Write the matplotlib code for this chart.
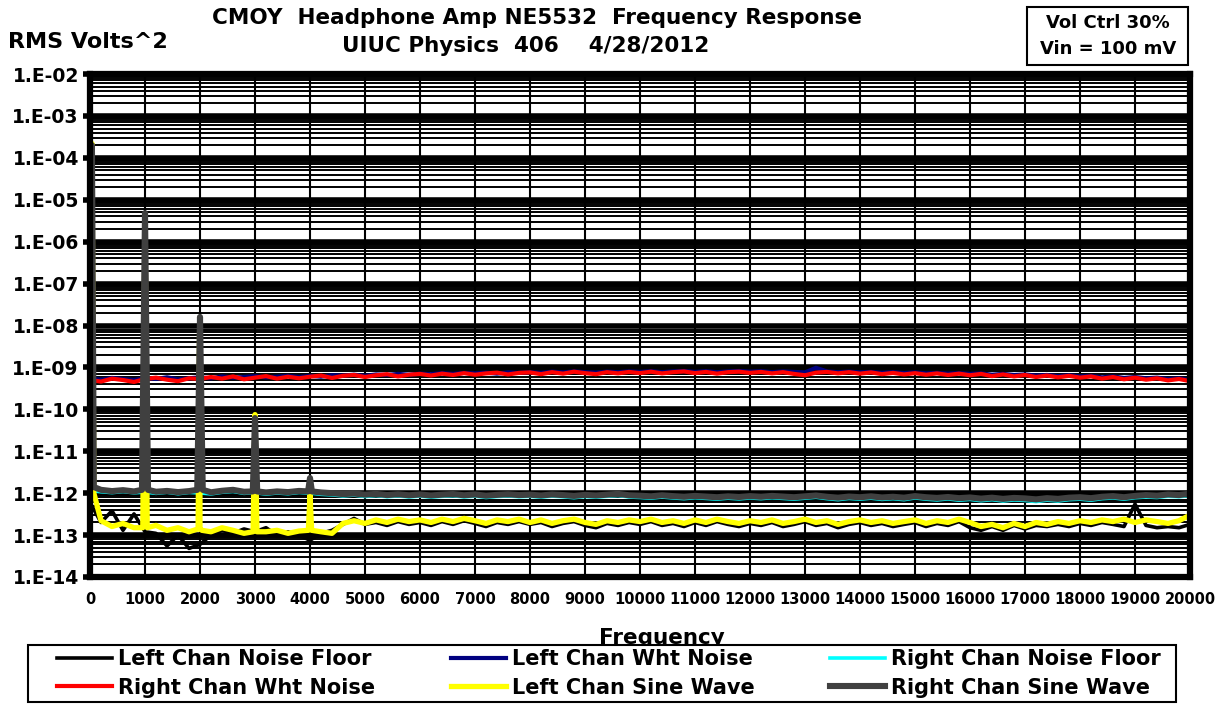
import matplotlib

matplotlib.use("Agg")
import matplotlib.pyplot as plt
import numpy as np
from matplotlib.patches import Rectangle
from matplotlib.ticker import FixedLocator, FuncFormatter, NullFormatter, NullLocator

plt.rcParams["font.family"] = ["DejaVu Sans"]
plt.rcParams["font.weight"] = "bold"

# sample frequencies (Hz) of the analyser trace, read every 200 Hz
freq = np.arange(0, 20001, 200)

# white noise traces, units of 1e-10 V^2
left_wht = np.array([
    5.4, 5.1, 5.6, 5.3, 5.0, 5.6, 5.3, 5.8, 5.2, 5.5,
    5.8, 5.5, 6.1, 5.7, 5.9, 6.2, 5.8, 6.0, 6.3, 5.9,
    6.3, 6.0, 6.5, 6.4, 6.7, 6.3, 6.8, 6.6, 7.0, 6.7,
    7.1, 6.9, 7.3, 7.0, 7.4, 7.2, 7.5, 7.1, 7.6, 7.4,
    7.7, 7.4, 7.9, 7.6, 8.0, 7.7, 7.5, 7.9, 7.7, 8.0,
    7.8, 8.1, 7.7, 8.0, 8.2, 7.8, 8.1, 7.7, 8.0, 8.2,
    7.9, 8.1, 7.7, 8.0, 7.8, 7.6, 9.8, 8.0, 7.7, 7.9,
    7.6, 7.8, 7.4, 7.7, 7.3, 7.6, 7.2, 7.4, 7.1, 7.3,
    7.0, 7.2, 6.7, 7.0, 6.6, 6.8, 6.4, 6.6, 6.2, 6.5,
    6.1, 6.3, 5.8, 6.1, 5.6, 5.9, 5.5, 5.7, 5.3, 5.5,
    5.0]) * 1e-10
right_wht = np.array([
    5.0, 4.6, 5.4, 5.0, 4.5, 5.3, 5.7, 5.1, 4.7, 5.5,
    5.3, 5.9, 5.4, 6.1, 5.2, 5.7, 6.2, 5.4, 6.0, 5.5,
    6.0, 6.4, 5.6, 6.3, 6.6, 5.9, 6.5, 6.9, 6.1, 6.7,
    7.0, 6.4, 7.1, 6.6, 7.3, 6.7, 7.2, 7.5, 6.8, 7.4,
    7.6, 6.9, 7.7, 7.1, 7.9, 7.3, 6.9, 7.7, 7.2, 7.8,
    7.3, 7.9, 7.2, 7.7, 8.0, 7.3, 7.8, 7.1, 7.7, 7.9,
    7.4, 7.8, 7.2, 7.7, 7.0, 6.5, 7.5, 7.8, 7.2, 7.7,
    7.1, 7.6, 6.9, 7.4, 6.8, 7.3, 6.7, 7.2, 6.6, 7.1,
    6.5, 7.0, 6.2, 6.8, 6.1, 6.6, 5.9, 6.4, 5.8, 6.3,
    5.7, 6.1, 5.4, 5.9, 5.2, 5.7, 5.1, 5.5, 4.9, 5.3,
    4.7]) * 1e-10

# noise floors, units of 1e-13 V^2
left_floor = np.array([
    6.0, 2.0, 3.8, 1.3, 3.2, 1.2, 1.1, 0.55, 1.0, 0.48,
    0.6, 1.0, 1.3, 1.1, 1.4, 1.2, 1.5, 1.0, 1.2, 1.0,
    0.75, 1.1, 1.3, 1.8, 2.5, 1.8, 2.0, 1.7, 2.1, 1.8,
    2.0, 1.7, 2.1, 1.8, 2.2, 1.9, 1.6, 2.0, 1.8, 2.1,
    1.8, 2.0, 1.6, 1.9, 2.1, 1.7, 1.5, 1.9, 1.7, 2.0,
    1.8, 2.1, 1.7, 1.9, 1.6, 2.0, 1.7, 2.1, 1.8, 1.6,
    1.9, 1.7, 2.0, 1.6, 1.8, 2.1, 1.7, 1.9, 1.5, 1.8,
    2.0, 1.7, 1.9, 1.6, 1.8, 2.0, 1.6, 1.9, 1.7, 2.1,
    1.5, 1.3, 1.6, 1.3, 1.7, 1.4, 1.7, 1.6, 1.8, 1.6,
    1.9, 1.7, 2.0, 1.8, 1.6, 5.5, 1.7, 1.5, 1.6, 1.5,
    1.8]) * 1e-13
right_floor = np.array([
    11.5, 10.8, 10.3, 10.9, 10.2, 10.6, 9.9, 10.5, 9.7, 10.4,
    10.1, 9.6, 10.5, 11.0, 9.9, 10.3, 9.5, 10.1, 9.7, 10.4,
    10.0, 9.4, 9.1, 8.6, 9.0, 8.3, 8.8, 8.2, 8.6, 8.1,
    8.5, 8.0, 8.4, 8.7, 8.1, 8.5, 7.9, 8.3, 8.6, 8.2,
    8.4, 8.0, 8.5, 8.2, 7.8, 8.3, 8.0, 8.4, 8.8, 8.1,
    7.9, 7.6, 8.1, 7.7, 7.4, 7.8, 7.5, 7.2, 7.6, 7.3,
    7.7, 7.4, 7.8, 7.5, 7.2, 7.6, 8.0, 7.4, 7.0, 7.5,
    7.2, 7.6, 7.1, 7.4, 7.0, 7.7, 7.2, 6.9, 7.3, 6.8,
    7.1, 6.6, 7.0, 6.5, 6.9, 6.7, 6.3, 6.8, 6.5, 7.0,
    7.2, 6.8, 7.4, 7.7, 7.2, 7.8, 8.1, 7.9, 8.4, 8.2,
    8.8]) * 1e-13

# sine wave traces: floor between harmonics, units of 1e-13 V^2
left_sine_floor = np.array([
    10.0, 2.2, 1.6, 1.9, 1.5, 1.4, 1.7, 1.3, 1.5, 1.2,
    1.4, 1.2, 1.5, 1.3, 1.1, 1.4, 1.2, 1.3, 1.1, 1.25,
    1.3, 1.2, 1.1, 1.9, 2.2, 1.9, 2.3, 2.0, 2.4, 2.1,
    2.3, 2.0, 2.4, 2.1, 2.5, 2.2, 1.9, 2.3, 2.1, 2.4,
    2.0, 2.3, 1.9, 2.2, 2.4, 2.0, 1.8, 2.2, 2.0, 2.3,
    2.1, 2.4, 2.0, 2.2, 1.9, 2.3, 2.0, 2.4, 2.1, 1.9,
    2.2, 2.0, 2.3, 1.9, 2.1, 2.4, 2.0, 2.2, 1.8, 2.1,
    2.3, 2.0, 2.2, 1.9, 2.1, 2.3, 1.9, 2.2, 2.0, 2.4,
    2.0, 1.6, 1.8, 1.5, 1.9, 1.6, 2.0, 1.8, 2.1, 1.9,
    2.2, 2.0, 2.3, 2.1, 2.4, 2.0, 2.3, 2.1, 1.9, 2.2,
    3.0]) * 1e-13
right_sine_floor = np.array([
    15.0, 12.0, 11.2, 11.8, 11.0, 11.5, 10.8, 11.3, 10.6, 11.2,
    11.0, 10.5, 11.4, 12.0, 10.8, 11.2, 10.4, 11.0, 10.6, 11.3,
    11.0, 10.4, 10.0, 9.5, 9.8, 9.2, 9.6, 9.0, 9.4, 8.9,
    9.3, 8.8, 9.2, 9.5, 8.9, 9.3, 8.7, 9.1, 9.4, 9.0,
    9.2, 8.8, 9.3, 9.0, 8.6, 9.1, 8.8, 9.2, 9.6, 8.9,
    8.7, 8.4, 8.9, 8.5, 8.2, 8.6, 8.3, 8.0, 8.4, 8.1,
    8.5, 8.2, 8.6, 8.3, 8.0, 8.4, 8.8, 8.2, 7.8, 8.3,
    8.0, 8.4, 7.9, 8.2, 7.8, 8.5, 8.0, 7.7, 8.1, 7.6,
    7.9, 7.4, 7.8, 7.3, 7.7, 7.5, 7.1, 7.6, 7.3, 7.8,
    8.0, 7.6, 8.2, 8.5, 8.0, 8.6, 9.0, 8.7, 9.3, 9.0,
    9.7]) * 1e-13

# harmonic peaks of the 1 kHz sine (Hz, V^2)
left_peak_freq = [35, 70, 960, 1000, 1040, 1965, 1995, 2035, 2965, 3000, 3035, 3970, 4000, 4030]
left_peak_val = [2.2e-4, 1.0e-12, 1.5e-13, 4.5e-6, 1.5e-13, 1.4e-13, 1.5e-8, 1.3e-13,
                 1.2e-13, 7.5e-11, 1.2e-13, 1.3e-13, 9.0e-13, 1.3e-13]
right_peak_freq = [35, 70, 945, 1000, 1055, 1950, 2000, 2050, 2960, 3000, 3040, 3965, 4000, 4035]
right_peak_val = [2.0e-4, 1.4e-12, 1.2e-12, 4.8e-6, 1.2e-12, 1.2e-12, 1.6e-8, 1.2e-12,
                  1.1e-12, 6.2e-11, 1.1e-12, 1.1e-12, 2.3e-12, 1.1e-12]

decades = [1e-14, 1e-13, 1e-12, 1e-11, 1e-10, 1e-9, 1e-8, 1e-7, 1e-6, 1e-5, 1e-4, 1e-3, 1e-2]
xticks = list(range(0, 20001, 1000))


def with_peaks(floor, peak_freq, peak_val):
    keep = ~np.isin(freq, peak_freq)
    x = np.concatenate([freq[keep], peak_freq])
    y = np.concatenate([floor[keep], peak_val])
    order = np.argsort(x)
    return x[order], y[order]


W, H = 1227, 704
fig = plt.figure(figsize=(W / 100, H / 100), dpi=100)
ax = fig.add_axes([90 / W, 1 - 577 / H, 1100 / W, 503 / H])
ax.set_yscale("log")
ax.set_xlim(0, 20000)
ax.set_ylim(1e-14, 1e-2)

# chart-style grid: heavy decades, thin 2..9, thin verticals every 1 kHz
minors = [m * d for d in decades[:-1] for m in range(2, 10)]
for d in decades[1:-1]:
    ax.axhline(d, color="black", lw=4.0, zorder=1)
for m in minors:
    ax.axhline(m, color="black", lw=1.4, zorder=1)
for xv in xticks[1:-1]:
    ax.axvline(xv, color="black", lw=1.5, zorder=1)

xs, ls = with_peaks(left_sine_floor, left_peak_freq, left_peak_val)
xr, rs = with_peaks(right_sine_floor, right_peak_freq, right_peak_val)

h_lnf, = ax.plot(freq, left_floor, color="black", lw=2.6, zorder=3)
h_lwn, = ax.plot(freq, left_wht, color="#000080", lw=3.0, zorder=3)
h_rnf, = ax.plot(freq, right_floor, color="#00ffff", lw=2.6, zorder=3)
h_rwn, = ax.plot(freq, right_wht, color="#ff0000", lw=3.0, zorder=3)
h_lsw, = ax.plot(xs, ls, color="#ffff00", lw=3.8, zorder=3)
h_rsw, = ax.plot(xr, rs, color="#404040", lw=4.4, zorder=3)

for s in ax.spines.values():
    s.set_linewidth(4.5)
    s.set_zorder(4)

ax.yaxis.set_major_locator(FixedLocator(decades))
ax.yaxis.set_minor_locator(NullLocator())
ax.yaxis.set_major_formatter(FuncFormatter(lambda v, p: "1.E-%02d" % round(-np.log10(v))))
ax.yaxis.set_minor_formatter(NullFormatter())
ax.tick_params(axis="y", which="major", length=5, width=4, pad=3, labelsize=13.5)
ax.xaxis.set_major_locator(FixedLocator(xticks))
ax.tick_params(axis="x", length=0, pad=11, labelsize=10.5)

fig.text(537 / W, 1 - 18 / H, "CMOY  Headphone Amp NE5532  Frequency Response",
         ha="center", va="center", fontsize=15.5, weight="bold")
fig.text(526 / W, 1 - 46 / H, "UIUC Physics  406    4/28/2012",
         ha="center", va="center", fontsize=15.5, weight="bold")
fig.text(8 / W, 1 - 42 / H, "RMS Volts^2", ha="left", va="center", fontsize=16, weight="bold")
fig.text(662 / W, 1 - 644 / H, "Frequency", ha="center", va="baseline", fontsize=15.5, weight="bold")

fig.patches.append(Rectangle((1027 / W, 1 - 65 / H), 161 / W, 58 / H, transform=fig.transFigure,
                             fill=False, ec="black", lw=1.5))
fig.text(1108 / W, 1 - 23 / H, "Vol Ctrl 30%", ha="center", va="center", fontsize=13, weight="bold")
fig.text(1108 / W, 1 - 49 / H, "Vin = 100 mV", ha="center", va="center", fontsize=13, weight="bold")

# legend box drawn separately so it covers the bottom of the axis title
fig.patches.append(Rectangle((28 / W, 2 / H), 1148 / W, 57 / H, transform=fig.transFigure,
                             fc="white", ec="black", lw=1.5, zorder=4))
handles = [h_lnf, h_rwn, h_lwn, h_lsw, h_rnf, h_rsw]
labels = ["Left Chan Noise Floor", "Right Chan Wht Noise", "Left Chan Wht Noise",
          "Left Chan Sine Wave", "Right Chan Noise Floor", "Right Chan Sine Wave"]
fig.legend(handles, labels, ncol=3, loc="upper left", bbox_to_anchor=(57 / W, 1 - 649 / H),
           borderaxespad=0, borderpad=0, prop={"weight": "bold", "size": 15}, handlelength=2.65,
           handletextpad=0.3, labelspacing=0.42, columnspacing=3.6, frameon=False)

fig.savefig("out.png", dpi=100)
